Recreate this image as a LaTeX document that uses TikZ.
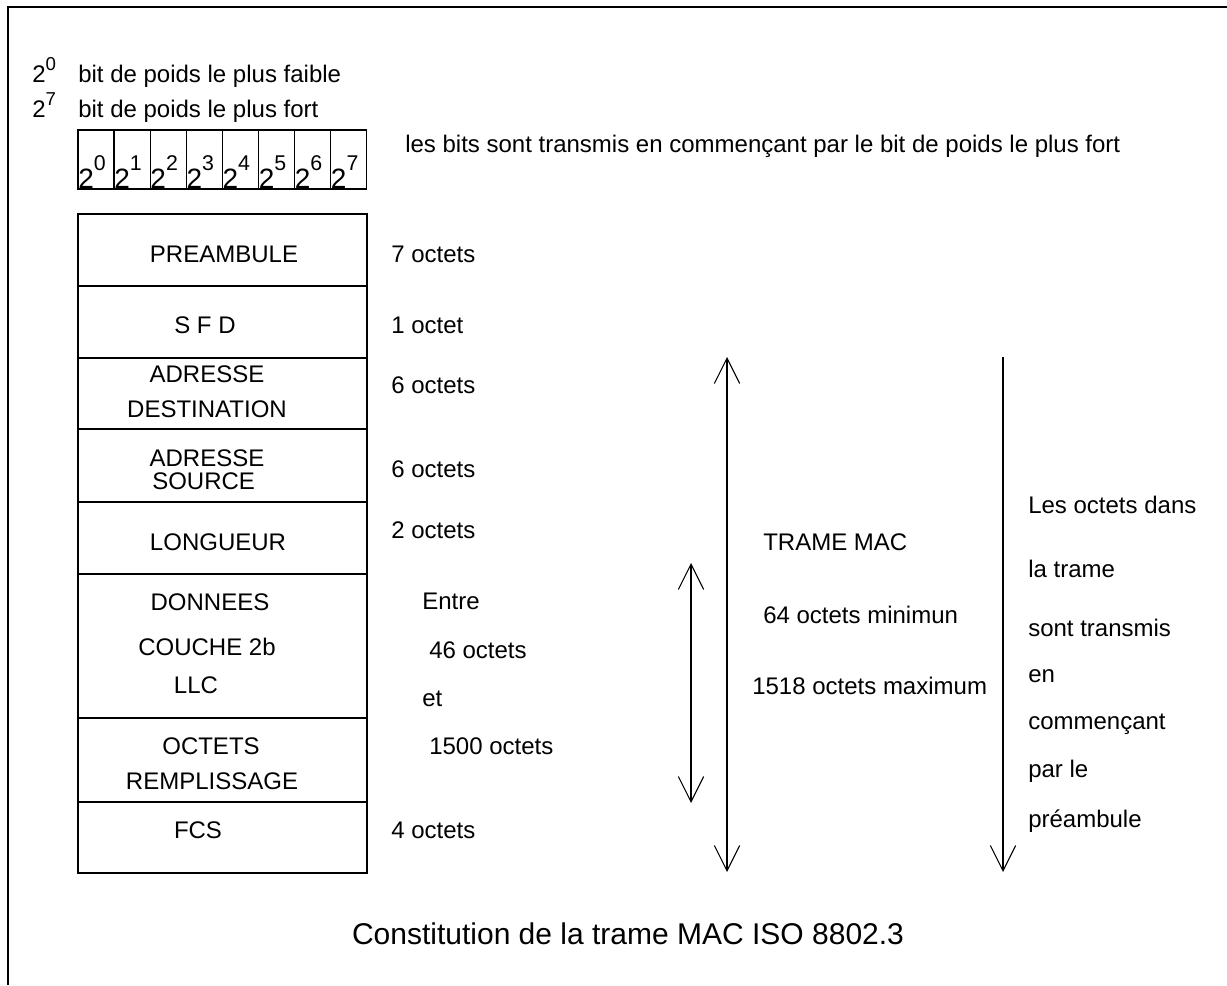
\documentclass[tikz,border=0pt]{standalone}
\usepackage{fontspec}
\setmainfont{Liberation Sans}
\usepackage{tikz}
\usetikzlibrary{arrows.meta, positioning}

% puissance de deux : #1 hausse de l'exposant, #2 taille, #3 exposant
\newcommand{\pdeux}[3]{2\raisebox{#1}{\fontsize{#2}{#2}\selectfont #3}}

\begin{document}
\begin{tikzpicture}[x=0.75pt, y=-0.75pt,
  font=\fontsize{18}{21}\selectfont,
  >={Straight Barb[length=19pt, width=19pt]},
  champ/.style={line width=1pt},
  txt/.style={anchor=base, inner sep=0pt},
  lbl/.style={anchor=base west, inner sep=0pt},
  fleche/.style={line width=0.8pt}]
  \useasboundingbox (0,0) rectangle (1227,985);

  % cadre
  \draw[line width=1.8pt] (8,985) -- (8,7) -- (1227,7);

  % poids des bits
  \node[lbl] (p0) at (32,82) {\pdeux{0.5em}{14}{0}};
  \node[lbl] (faible) at (78,82) {bit de poids le plus faible};
  \node[lbl] (p7) at (32,117) {\pdeux{0.5em}{14}{7}};
  \node[lbl] (fort) at (78,117) {bit de poids le plus fort};

  \foreach \k in {0,...,7} {
    \draw[champ] (78+36.1*\k,130) rectangle ++(36.1,59);
    \node[lbl, font=\fontsize{21}{23}\selectfont] (b\k) at (78+36.1*\k,188)
      {\pdeux{0.62em}{16}{\k}};
  }
  \node[lbl] (ordre) at (405,152)
    {les bits sont transmis en commençant par le bit de poids le plus fort};

  % champs de la trame
  \draw[champ] (78,214) rectangle (367,286);
  \draw[champ] (78,286) rectangle (367,358);
  \draw[champ] (78,358) rectangle (367,429);
  \draw[champ] (78,429) rectangle (367,502);
  \draw[champ] (78,502) rectangle (367,574);
  \draw[champ] (78,574) rectangle (367,718);
  \draw[champ] (78,718) rectangle (367,802);
  \draw[champ] (78,802) rectangle (367,873);

  \node[txt] (pre) at (224,262) {PREAMBULE};
  \node[txt] (sfd) at (205,333) {S F D};
  \node[txt] (ad1) at (207,382) {ADRESSE};
  \node[txt] (dest) at (207,417) {DESTINATION};
  \node[txt] (ad2) at (207,466) {ADRESSE};
  \node[lbl] (src) at (152,489) {SOURCE};
  \node[txt] (lg) at (218,550) {LONGUEUR};
  \node[txt] (don) at (210,610) {DONNEES};
  \node[txt] (couche) at (207,655) {COUCHE 2b};
  \node[txt] (llc) at (196,693) {LLC};
  \node[txt] (oct) at (211,754) {OCTETS};
  \node[txt] (rem) at (212,789) {REMPLISSAGE};
  \node[txt] (fcs) at (198,838) {FCS};

  % tailles
  \node[lbl] (t7) at (391,262) {7 octets};
  \node[lbl] (t1) at (391,333) {1 octet};
  \node[lbl] (t6a) at (391,393) {6 octets};
  \node[lbl] (t6b) at (391,477) {6 octets};
  \node[lbl] (t2) at (391,538) {2 octets};
  \node[lbl] (entre) at (422,609) {Entre};
  \node[lbl] (t46) at (429,658) {46 octets};
  \node[lbl] (et) at (422,706) {et};
  \node[lbl] (t1500) at (429,754) {1500 octets};
  \node[lbl] (t4) at (391,838) {4 octets};

  % longueurs
  \coordinate (dh) at (691,563);
  \coordinate (db) at (691,803);
  \coordinate (mh) at (727,357);
  \coordinate (mb) at (727,872);
  \coordinate (sh) at (1003,357);
  \coordinate (sb) at (1003,872);
  \draw[fleche, <->] (dh) -- (db);
  \draw[fleche, <->] (mh) -- (mb);
  \draw[fleche, ->] (sh) -- (sb);

  \node[lbl] (mac) at (763,550) {TRAME MAC};
  \node[lbl] (min) at (763,623) {64 octets minimun};
  \node[lbl] (max) at (752,694) {1518 octets maximum};

  % sens de transmission
  \node[lbl] (s1) at (1028,513) {Les octets dans};
  \node[lbl] (s2) at (1028,577) {la trame};
  \node[lbl] (s3) at (1028,636) {sont transmis};
  \node[lbl] (s4) at (1028,682) {en};
  \node[lbl] (s5) at (1028,729) {commençant};
  \node[lbl] (s6) at (1028,777) {par le};
  \node[lbl] (s7) at (1028,827) {préambule};

  \node[txt, font=\fontsize{22.5}{26}\selectfont] (titre) at (628,944)
    {Constitution de la trame MAC ISO 8802.3};
\end{tikzpicture}
\end{document}
